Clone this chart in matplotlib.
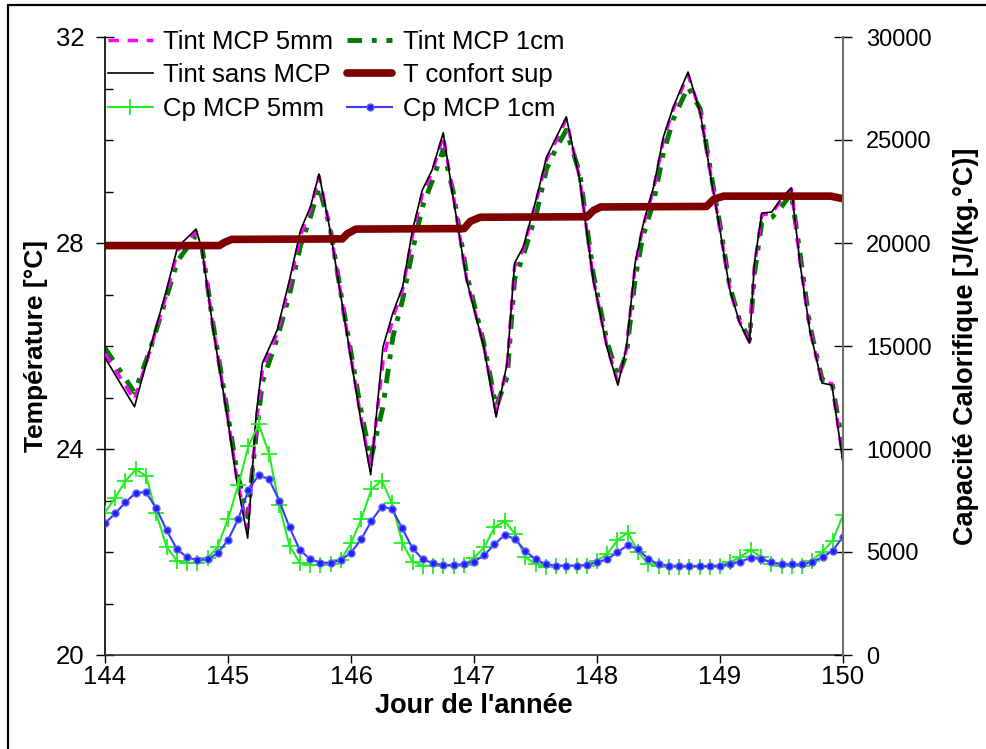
import numpy as np
import matplotlib
matplotlib.use("Agg")
import matplotlib.pyplot as plt
from matplotlib.patches import Rectangle
from matplotlib.ticker import MultipleLocator

plt.rcParams['font.family'] = ['Liberation Sans', 'DejaVu Sans']

# temperature curves (day of year, degC)
t_temp = [144.00, 144.24, 144.37, 144.50, 144.59, 144.74, 144.79, 144.88, 144.99, 145.07,
          145.16, 145.23, 145.28, 145.40, 145.50, 145.59, 145.67, 145.74, 145.83, 145.94,
          146.07, 146.16, 146.26, 146.34, 146.42, 146.50, 146.58, 146.66, 146.75, 146.83,
          146.94, 147.08, 147.18, 147.27, 147.33, 147.40, 147.51, 147.59, 147.67, 147.75,
          147.86, 147.97, 148.08, 148.17, 148.24, 148.31, 148.37, 148.46, 148.54, 148.62,
          148.74, 148.84, 148.93, 149.00, 149.08, 149.16, 149.24, 149.28, 149.34, 149.42,
          149.50, 149.58, 149.65, 149.73, 149.83, 149.91, 150.00]

tint_sans = [25.77, 24.82, 25.98, 27.09, 27.92, 28.27, 27.86, 26.31, 24.70, 23.40,
             22.27, 24.70, 25.67, 26.31, 27.28, 28.25, 28.70, 29.34, 28.25, 26.64,
             24.70, 23.50, 25.98, 26.64, 27.15, 28.25, 29.03, 29.42, 30.14, 28.89,
             27.28, 25.98, 24.62, 25.67, 27.61, 27.92, 28.89, 29.67, 30.06, 30.45,
             29.22, 27.28, 25.98, 25.24, 25.98, 27.61, 28.31, 29.09, 30.06, 30.64,
             31.32, 30.52, 29.22, 28.25, 27.09, 26.45, 26.06, 27.61, 28.58, 28.60,
             28.87, 29.07, 27.61, 26.31, 25.28, 25.24, 23.73]

tint_5mm = [25.85, 24.95, 25.95, 27.00, 27.85, 28.22, 27.88, 26.35, 24.75, 23.45,
            22.45, 24.50, 25.55, 26.25, 27.20, 28.15, 28.65, 29.30, 28.28, 26.68,
            24.75, 23.60, 25.70, 26.55, 27.10, 28.15, 28.95, 29.38, 30.08, 28.95,
            27.30, 26.00, 24.70, 25.60, 27.55, 27.88, 28.85, 29.62, 30.00, 30.40,
            29.25, 27.30, 26.00, 25.30, 25.95, 27.55, 28.28, 29.05, 30.00, 30.60,
            31.27, 30.55, 29.25, 28.27, 27.10, 26.47, 26.08, 27.55, 28.55, 28.57,
            28.84, 29.05, 27.65, 26.33, 25.30, 25.27, 23.80]

tint_1cm = [25.96, 25.10, 25.95, 26.95, 27.65, 28.15, 27.90, 26.40, 24.80, 23.60,
            22.68, 24.30, 25.30, 26.15, 27.00, 27.95, 28.50, 29.09, 28.30, 26.70,
            24.90, 23.79, 24.82, 26.17, 26.90, 27.85, 28.70, 29.20, 29.81, 29.00,
            27.40, 26.05, 24.82, 25.40, 27.30, 27.75, 28.60, 29.44, 29.85, 30.19,
            29.35, 27.40, 26.10, 25.40, 25.85, 27.30, 28.10, 28.80, 29.75, 30.40,
            31.03, 30.60, 29.30, 28.35, 27.15, 26.50, 26.12, 27.40, 28.40, 28.49,
            28.70, 28.97, 27.80, 26.40, 25.35, 25.30, 24.04]

# upper comfort temperature
t_confort = [144.00, 144.93, 144.97, 145.03, 145.93, 145.97, 146.04, 146.92, 146.97, 147.05,
             147.92, 147.97, 148.03, 148.89, 148.95, 149.03, 149.90, 150.00]
confort_sup = [27.95, 27.95, 28.01, 28.07, 28.08, 28.18, 28.27, 28.28, 28.42, 28.50,
               28.51, 28.63, 28.70, 28.71, 28.85, 28.91, 28.91, 28.86]

# heat capacity, every 2 hours (J/(kg.degC))
cp_hours = np.arange(0, 145, 2)
cp_5mm = [6910, 7640, 8450, 9010, 8700, 6880, 5260, 4580, 4480, 4480, 4690, 5260,
          6600, 8250, 10150, 11200, 9780, 7280, 5290, 4480, 4370, 4370, 4420, 4610,
          5420, 6600, 8060, 8460, 7360, 5450, 4530, 4340, 4340, 4320, 4320, 4370,
          4720, 5230, 6200, 6500, 5870, 4740, 4420, 4290, 4320, 4320, 4320, 4340,
          4580, 4900, 5580, 5940, 5020, 4420, 4320, 4290, 4290, 4290, 4290, 4290,
          4320, 4500, 4770, 5100, 4740, 4420, 4320, 4320, 4320, 4580, 5020, 5550,
          6800]
cp_1cm = [6390, 6880, 7410, 7880, 7900, 7120, 6070, 5150, 4740, 4610, 4650, 4940,
          5580, 6600, 8010, 8740, 8530, 7490, 6200, 5100, 4660, 4480, 4480, 4610,
          4970, 5620, 6520, 7200, 7090, 6150, 5180, 4650, 4450, 4370, 4370, 4420,
          4530, 4850, 5370, 5830, 5630, 5050, 4650, 4400, 4340, 4340, 4340, 4370,
          4500, 4660, 4980, 5340, 5130, 4660, 4400, 4340, 4320, 4320, 4320, 4320,
          4340, 4420, 4530, 4720, 4660, 4500, 4420, 4400, 4400, 4530, 4740, 5070,
          5740]

t_cp = 144 + cp_hours / 24.0

fig = plt.figure(figsize=(9.86, 7.49), dpi=100)
ax = fig.add_axes([105 / 986, 1 - 655 / 749, (843 - 105) / 986, (655 - 37) / 749])
ax2 = ax.twinx()

# frame around the whole picture
fig.patches.append(Rectangle((8 / 986, -0.02), 1.1, 1 - 5 / 749 + 0.02, transform=fig.transFigure,
                             fill=False, edgecolor='black', linewidth=1.6))

l1cm, = ax.plot(t_temp, tint_1cm, color='#007a00', lw=3.5, ls=(0, (3, 2, 1, 2)), zorder=2)
l5mm, = ax.plot(t_temp, tint_5mm, color='#ff00ff', lw=2.5, ls=(0, (3, 2.5)), zorder=3)
lsans, = ax.plot(t_temp, tint_sans, color='black', lw=1.2, zorder=4)
lconf, = ax.plot(t_confort, confort_sup, color='#800000', lw=5.5, solid_capstyle='round', zorder=5)

lcp5, = ax2.plot(t_cp, cp_5mm, color='#22ee22', lw=1.5, marker='+', ms=11, mew=1.3)
lcp1, = ax2.plot(t_cp, cp_1cm, color='#3a3aff', lw=1.5, marker='o', ms=5,
                 mfc='#2020ff', mec='#6060ff')

ax.set_xlim(144, 150)
ax.set_ylim(20, 32)
ax2.set_ylim(0, 30000)
ax.xaxis.set_major_locator(MultipleLocator(1))
ax.yaxis.set_major_locator(MultipleLocator(4))
ax.yaxis.set_minor_locator(MultipleLocator(1))
ax2.yaxis.set_major_locator(MultipleLocator(5000))

ax.tick_params(axis='x', direction='out', length=5.5, width=1, labelsize=18.5, pad=2)
ax.tick_params(axis='y', which='major', direction='inout', length=13, width=1, labelsize=18.5, pad=8.5)
ax.tick_params(axis='y', which='minor', direction='in', length=6, width=1)
ax2.tick_params(axis='y', direction='inout', length=13, width=1, labelsize=17, pad=10)

for a in (ax, ax2):
    a.spines['top'].set_visible(False)
ax.spines['right'].set_visible(False)
ax2.spines['left'].set_visible(False)
ax2.spines['bottom'].set_visible(False)
ax2.spines['right'].set_color('#707070')
ax2.spines['right'].set_linewidth(1.5)
ax.spines['left'].set_linewidth(1.2)
ax.spines['bottom'].set_linewidth(1.2)
ax.spines['bottom'].set_color('#303030')

ax.set_xlabel("Jour de l'année", fontsize=19.5, fontweight='bold')
ax.set_ylabel("Température [°C]", fontsize=19, fontweight='bold')
ax2.set_ylabel("Capacité Calorifique [J/(kg.°C)]", fontsize=19.5, fontweight='bold')
ax.xaxis.set_label_coords(0.5, -0.061)
ax.yaxis.set_label_coords(-0.077, 0.5)
ax2.yaxis.set_label_coords(1.149, 0.5)

handles = [l5mm, lsans, lcp5, l1cm, lconf, lcp1]
labels = ['Tint MCP 5mm', 'Tint sans MCP', 'Cp MCP 5mm',
          'Tint MCP 1cm', 'T confort sup', 'Cp MCP 1cm']
leg = ax2.legend(handles, labels, loc='upper left', bbox_to_anchor=(0.004, 1.012), ncol=2,
                 frameon=False, fontsize=18.5, handlelength=1.75, handletextpad=0.4,
                 columnspacing=0.55, labelspacing=0.38, borderpad=0.0, borderaxespad=0.0)

fig.savefig('out.png', dpi=100)
